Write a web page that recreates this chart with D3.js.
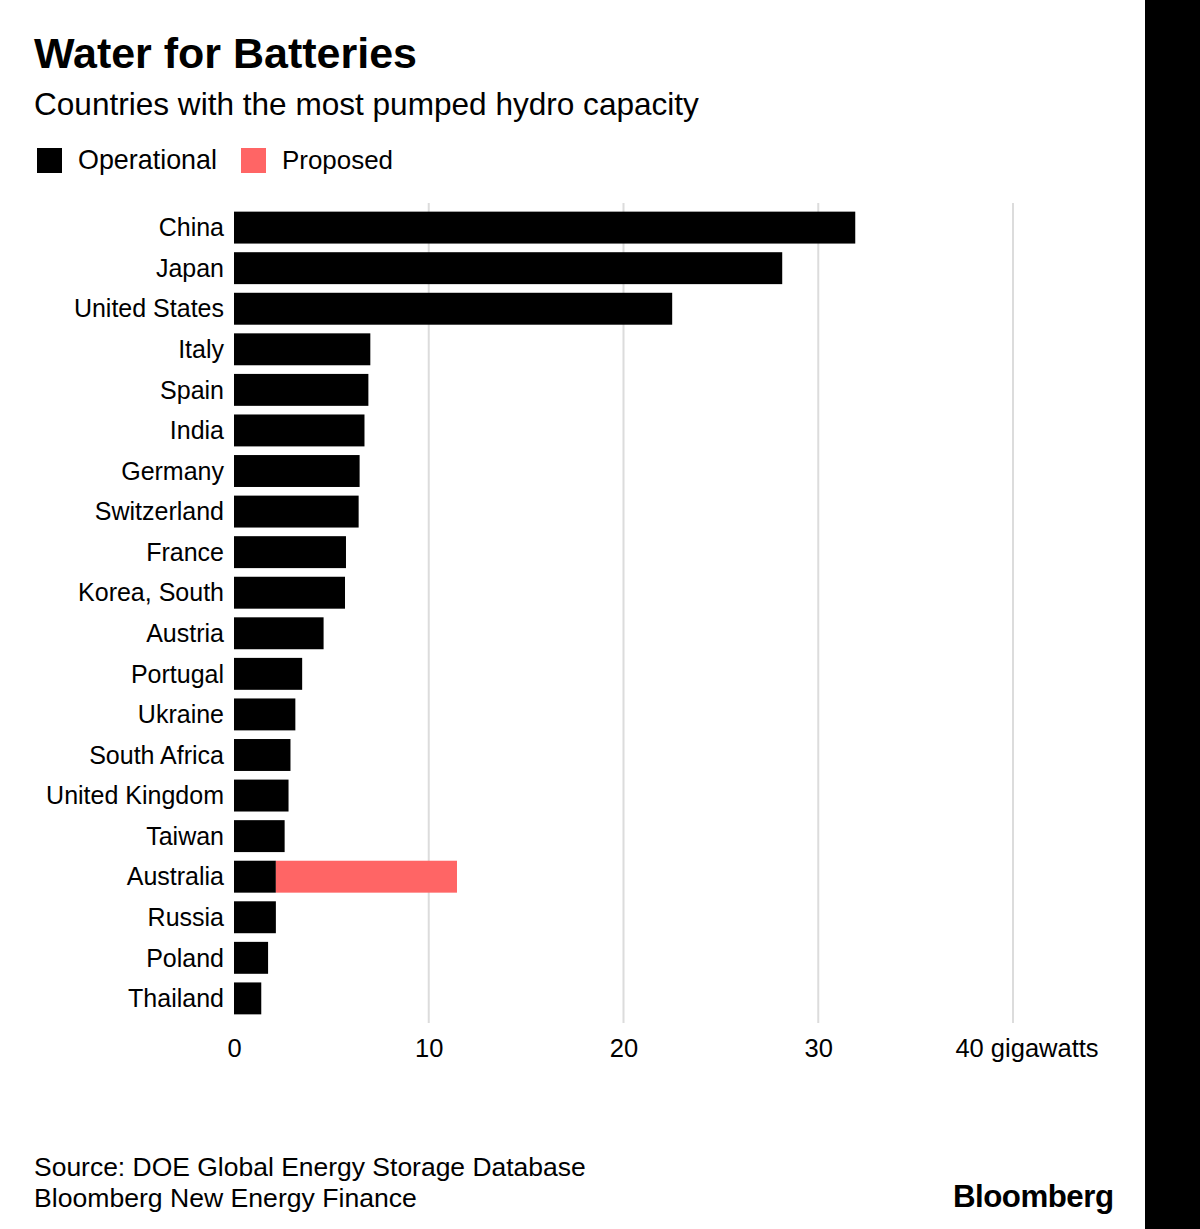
<!DOCTYPE html>
<html>
<head>
<meta charset="utf-8">
<script src="https://cdn.jsdelivr.net/npm/d3@7"></script>
<style>
  html, body { margin: 0; padding: 0; background: #fff; }
  svg { display: block; }
  text { font-family: "Liberation Sans", Arial, Helvetica, sans-serif; fill: #000; }
</style>
</head>
<body>
<svg id="chart" width="1200" height="1229"></svg>
<script>
// ---- Data ----
const countries = ["China","Japan","United States","Italy","Spain","India","Germany","Switzerland","France","Korea, South","Austria","Portugal","Ukraine","South Africa","United Kingdom","Taiwan","Australia","Russia","Poland","Thailand"];
const operational = [31.9, 28.15, 22.5, 7.0, 6.9, 6.7, 6.45, 6.4, 5.75, 5.7, 4.6, 3.5, 3.15, 2.9, 2.8, 2.6, 2.15, 2.15, 1.75, 1.4];
const proposed =    [0, 0, 0, 0, 0, 0, 0, 0, 0, 0, 0, 0, 0, 0, 0, 0, 9.3, 0, 0, 0];
const seriesNames = ["Operational", "Proposed"];
const tickValues = [0, 10, 20, 30, 40];
const unitLabel = "gigawatts";

const colors = { Operational: "#000000", Proposed: "#ff6565" };

const svg = d3.select("#chart");
svg.append("rect").attr("width", 1200).attr("height", 1229).attr("fill", "#fff");
svg.append("rect").attr("x", 1145).attr("y", 0).attr("width", 55).attr("height", 1229).attr("fill", "#000");

// helper: fit text width
function fit(sel, width) {
  const node = sel.node();
  const fs = parseFloat(sel.attr("font-size"));
  const w = node.getComputedTextLength();
  sel.attr("font-size", (fs * width / w).toFixed(2));
  return sel;
}

// Title / subtitle
fit(svg.append("text").attr("x", 34).attr("y", 68).attr("font-size", 36).attr("font-weight", "bold")
  .text("Water for Batteries"), 383);
fit(svg.append("text").attr("x", 34).attr("y", 115).attr("font-size", 28)
  .text("Countries with the most pumped hydro capacity"), 665);

// Legend
const legendPos = [{x: 37, tx: 78, w: 139}, {x: 241, tx: 282, w: 111}];
seriesNames.forEach((name, i) => {
  svg.append("rect").attr("x", legendPos[i].x).attr("y", 148).attr("width", 25).attr("height", 25)
    .attr("fill", colors[name]);
  fit(svg.append("text").attr("x", legendPos[i].tx).attr("y", 169).attr("font-size", 24).text(name), legendPos[i].w);
});

// Scales
const x = d3.scaleLinear().domain([0, 40]).range([234, 1013]);
const y = d3.scaleBand().domain(countries).range([203, 1023]).paddingInner(0.213).paddingOuter(0.213);

// Gridlines
svg.append("g").selectAll("line").data(tickValues.filter(d => d > 0)).join("line")
  .attr("x1", d => x(d)).attr("x2", d => x(d))
  .attr("y1", 203).attr("y2", 1023)
  .attr("stroke", "#dcdcdc").attr("stroke-width", 2);

// Stacked bars
const rows = countries.map((c, i) => ({ country: c, Operational: operational[i], Proposed: proposed[i] }));
const stack = d3.stack().keys(seriesNames)(rows);
svg.append("g").selectAll("g").data(stack).join("g")
  .attr("fill", d => colors[d.key])
  .selectAll("rect").data(d => d.filter(p => p[1] > p[0])).join("rect")
  .attr("x", d => x(d[0]))
  .attr("width", d => x(d[1]) - x(d[0]))
  .attr("y", d => y(d.data.country))
  .attr("height", y.bandwidth());

// Category labels
const yAxis = d3.axisLeft(y).tickSize(0).tickPadding(0);
const yg = svg.append("g").attr("transform", "translate(224,0)").call(yAxis);
yg.select(".domain").remove();
yg.selectAll("text").attr("font-size", 25).attr("font-family", "Liberation Sans, Arial, sans-serif")
  .attr("fill", "#000").attr("dy", "0.35em");

// X axis labels
const xAxis = d3.axisBottom(x).tickValues(tickValues).tickSize(0).tickPadding(0)
  .tickFormat(d => d === 40 ? `${d} ${unitLabel}` : d);
const xg = svg.append("g").attr("transform", "translate(0,1057)").call(xAxis);
xg.select(".domain").remove();
xg.selectAll("text").attr("font-size", 25.5).attr("font-family", "Liberation Sans, Arial, sans-serif")
  .attr("fill", "#000").attr("dy", 0)
  .attr("dx", d => d === 40 ? 13.5 : 0);

// Footer
fit(svg.append("text").attr("x", 34).attr("y", 1176).attr("font-size", 24)
  .text("Source: DOE Global Energy Storage Database"), 552);
fit(svg.append("text").attr("x", 34).attr("y", 1207).attr("font-size", 24)
  .text("Bloomberg New Energy Finance"), 383);
fit(svg.append("text").attr("x", 953).attr("y", 1207).attr("font-size", 28).attr("font-weight", "bold")
  .attr("letter-spacing", -0.5).text("Bloomberg"), 160);
</script>
</body>
</html>
